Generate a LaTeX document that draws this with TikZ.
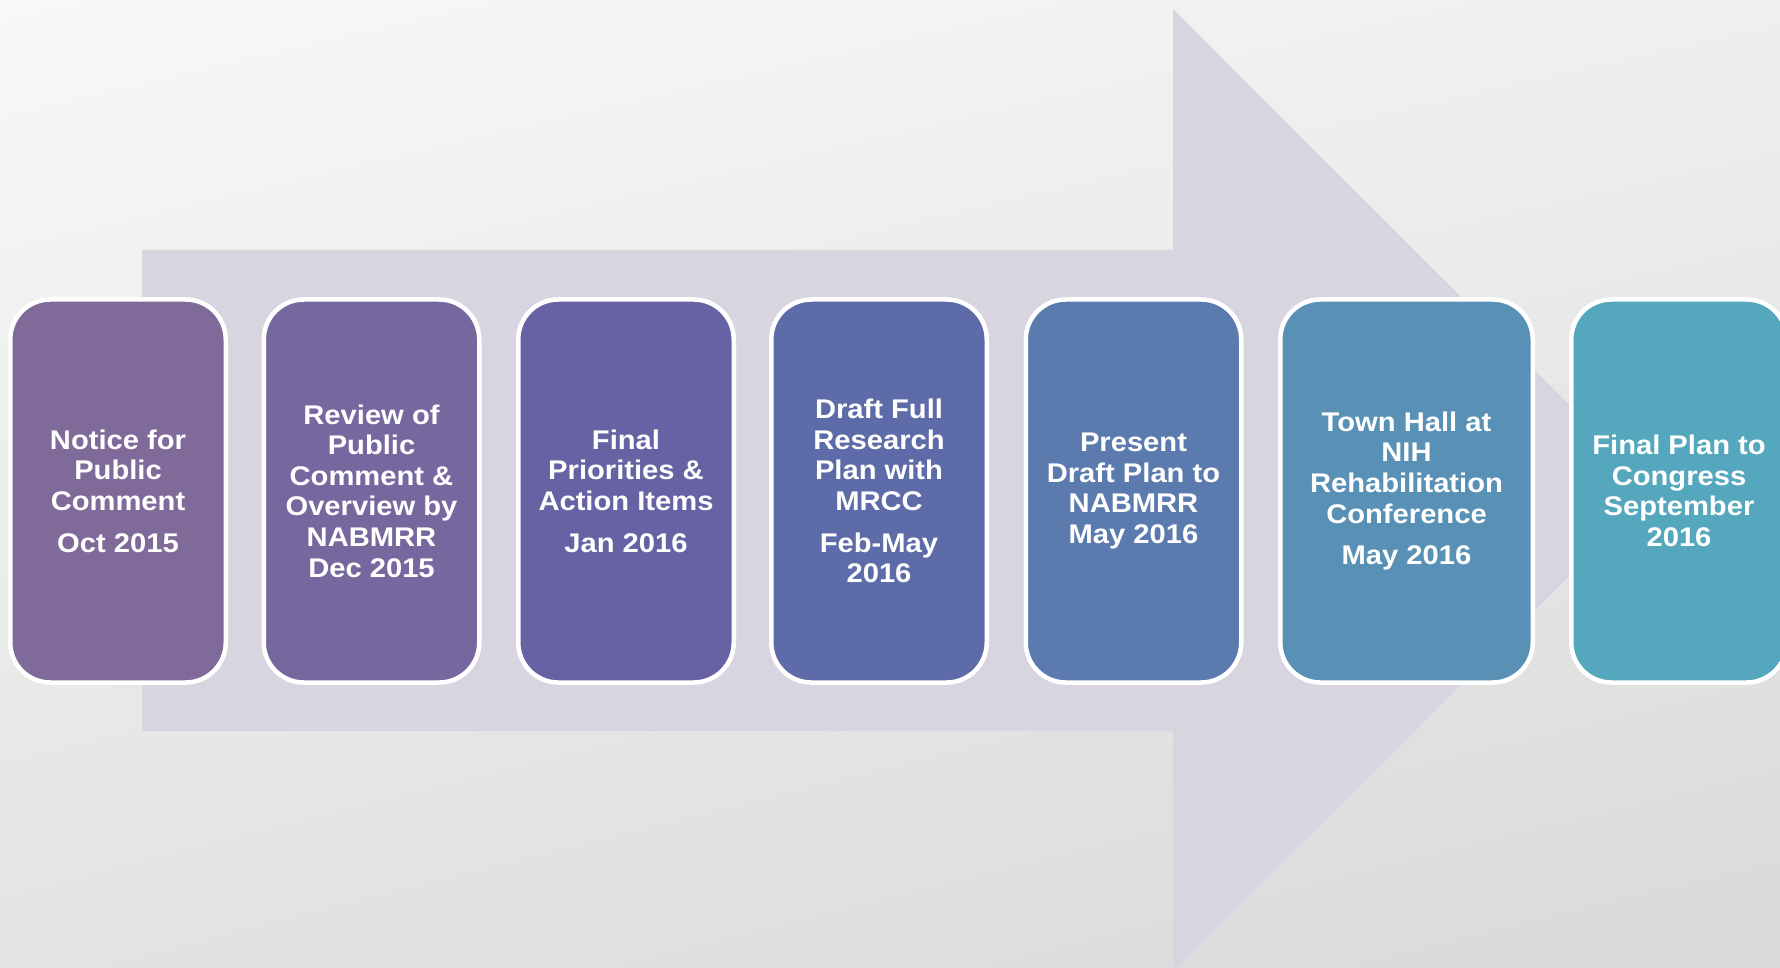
\documentclass[tikz,border=0pt]{standalone}
\usepackage{fontspec}
\usetikzlibrary{shadings}
\setmainfont{Liberation Sans}[FakeStretch=1.08]
\definecolor{cA}{HTML}{806A9A}
\definecolor{cB}{HTML}{76689F}
\definecolor{cC}{HTML}{6662A4}
\definecolor{cD}{HTML}{5D6BA8}
\definecolor{cE}{HTML}{5B7BAE}
\definecolor{cF}{HTML}{5891B5}
\definecolor{cG}{HTML}{54A7BC}
\definecolor{arrowc}{HTML}{D8D5E0}
\definecolor{bgUL}{HTML}{F8F8F8}
\definecolor{bgUR}{HTML}{EFEFEF}
\definecolor{bgLL}{HTML}{E3E3E3}
\definecolor{bgLR}{HTML}{D9D9D9}
\begin{document}
\begin{tikzpicture}[x=1pt,y=-1pt,
  box/.style={draw=white, line width=4.5pt, rounded corners=40pt,
    minimum width=215.5pt, minimum height=383pt, inner sep=0pt,
    text=white, align=center,
    font=\fontsize{27}{30.6}\selectfont\bfseries}]
\useasboundingbox (0,0) rectangle (1780,968);
\clip (0,0) rectangle (1780,968);
\shade[upper left=bgUL, upper right=bgUR, lower left=bgLL, lower right=bgLR] (0,0) rectangle (1780,968);
\fill[arrowc] (142,250) -- (1173,250) -- (1173,9) -- (1654.5,490.5) -- (1173,972) -- (1173,731) -- (142,731) -- cycle;
\node[box, fill=cA] (b1) at (118,491) {Notice for\\Public\\Comment\\[11pt]Oct 2015};
\node[box, fill=cB] (b2) at (371.5,491) {Review of\\Public\\Comment \&\\Overview by\\NABMRR\\Dec 2015};
\node[box, fill=cC] (b3) at (626,491) {Final\\Priorities \&\\Action Items\\[11pt]Jan 2016};
\node[box, fill=cD] (b4) at (879,491) {Draft Full\\Research\\Plan with\\MRCC\\[11pt]Feb-May\\2016};
\node[box, fill=cE] (b5) at (1133.5,491) {Present\\Draft Plan to\\NABMRR\\May 2016};
\node[box, fill=cF, minimum width=252.5pt] (b6) at (1406.5,491) {Town Hall at\\NIH\\Rehabilitation\\Conference\\[11pt]May 2016};
\node[box, fill=cG] (b7) at (1679,491) {Final Plan to\\Congress\\September\\2016};
\end{tikzpicture}
\end{document}
